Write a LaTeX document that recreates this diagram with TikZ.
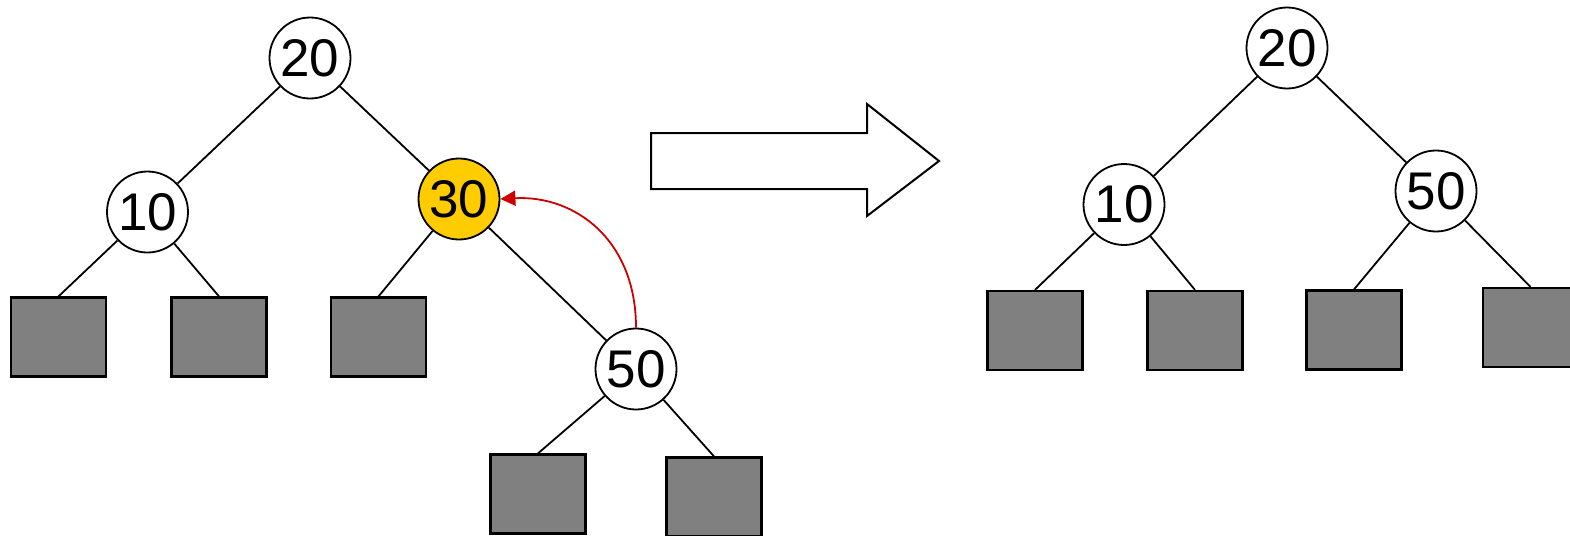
\documentclass[tikz,border=0pt]{standalone}
\usepackage{fontspec}
\setmainfont{Liberation Sans}
\usetikzlibrary{arrows.meta}
\definecolor{leafgray}{HTML}{808080}
\definecolor{hiyellow}{HTML}{FFCC00}
\definecolor{arrred}{HTML}{CC0000}
\tikzset{
  keynode/.style={circle, draw=black, line width=1.8pt, fill=white, minimum size=81pt, inner sep=0pt, font=\fontsize{53}{56}\selectfont},
  hikey/.style={keynode, fill=hiyellow},
  leafbox/.style={rectangle, draw=black, line width=2.2pt, fill=leafgray, minimum width=95pt, minimum height=79pt, inner sep=0pt},
  edgeline/.style={draw=black, line width=1.8pt},
  movearrow/.style={draw=arrred, line width=1.8pt, -{Triangle[length=15pt,width=15pt]}},
  bigarrow/.style={draw=black, line width=2pt, fill=white, line join=miter}
}
\begin{document}
\begin{tikzpicture}[x=1pt,y=-1pt]
\useasboundingbox (0,0) rectangle (1570,535);
% left tree
\node[keynode] (l20) at (310,58) {20};
\node[keynode] (l10) at (147.5,212) {10};
\node[hikey] (l30) at (459,199) {30};
\node[keynode] (l50) at (636,369) {50};
\node[leafbox] (la) at (58.5,337) {};
\node[leafbox] (lb) at (219,337) {};
\node[leafbox] (lc) at (378.5,337) {};
\node[leafbox] (ld) at (538,494) {};
\node[leafbox] (le) at (714,497) {};
\draw[edgeline] (l20) -- (l10);
\draw[edgeline] (l20) -- (l30);
\draw[edgeline] (l10) -- (la.north);
\draw[edgeline] (l10) -- (lb.north);
\draw[edgeline] (l30) -- (lc.north);
\draw[edgeline] (l30) -- (l50);
\draw[edgeline] (l50) -- (ld.north);
\draw[edgeline] (l50) -- (le.north);
\draw[movearrow] (l50.north) .. controls (636,240) and (575,195) .. (l30.east);
% big arrow
\draw[bigarrow] (651,133) -- (867,133) -- (867,104) -- (939,161) -- (867,216) -- (867,189) -- (651,189) -- cycle;
% right tree
\node[keynode] (r20) at (1287,48) {20};
\node[keynode] (r10) at (1124,204.5) {10};
\node[keynode] (r50) at (1436,191) {50};
\node[leafbox] (ra) at (1035,330.5) {};
\node[leafbox] (rb) at (1195,330.5) {};
\node[leafbox] (rc) at (1354,330) {};
\node[leafbox] (rd) at (1530.5,327.5) {};
\draw[edgeline] (r20) -- (r10);
\draw[edgeline] (r20) -- (r50);
\draw[edgeline] (r10) -- (ra.north);
\draw[edgeline] (r10) -- (rb.north);
\draw[edgeline] (r50) -- (rc.north);
\draw[edgeline] (r50) -- (rd.north);
\end{tikzpicture}
\end{document}
